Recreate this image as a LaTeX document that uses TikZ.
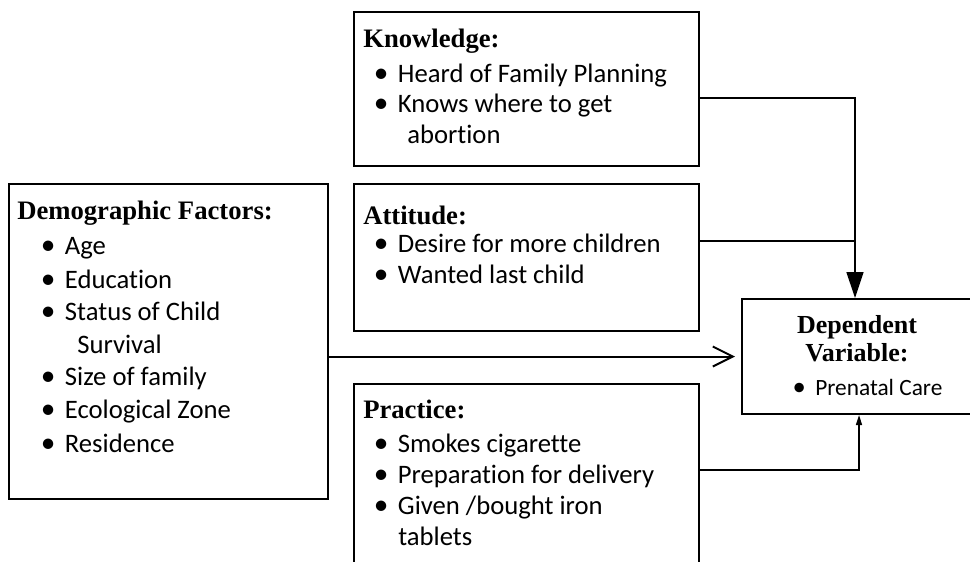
\documentclass[tikz,border=0pt]{standalone}
\usepackage{fontspec}
\setmainfont{Liberation Serif}
\newfontfamily\calfont[Ligatures={NoCommon,NoContextual}]{Carlito}
\usetikzlibrary{arrows.meta}
\newcommand{\blt}{\makebox[15.5pt][l]{\hspace{-2.5pt}\raisebox{-0.5pt}{\fontsize{22}{22}\selectfont•}}}
\newcommand{\sblt}{\makebox[15pt][l]{\hspace{-2pt}\raisebox{-0.5pt}{\fontsize{20}{20}\selectfont•}}}
\begin{document}
\begin{tikzpicture}[x=0.75pt,y=-0.75pt,
  box/.style={draw, line width=1.5pt, inner sep=0pt, anchor=north west},
  hd/.style={anchor=base west, inner sep=0pt, font=\bfseries\fontsize{20}{22}\selectfont},
  hdc/.style={anchor=base, inner sep=0pt, font=\bfseries\fontsize{19.5}{22}\selectfont},
  it/.style={anchor=base west, inner sep=0pt, font=\calfont\fontsize{20}{22}\selectfont},
  sit/.style={anchor=base west, inner sep=0pt, font=\calfont\fontsize{17.5}{20}\selectfont},
  conn/.style={line width=1.1pt}]
\useasboundingbox (0,0) rectangle (970,561);

% boxes
\node[box, minimum width=258.75pt, minimum height=115.5pt] (know) at (353,11) {};
\node[box, minimum width=258.75pt, minimum height=110.25pt] (att) at (353,183) {};
\node[box, minimum width=258.75pt, minimum height=147.75pt] (prac) at (353,383) {};
\node[box, minimum width=239.25pt, minimum height=236.25pt] (demo) at (8,183) {};
\node[box, minimum width=175.5pt, minimum height=86.25pt] (dep) at (741,298) {};

% Knowledge
\node[hd] (k0) at (363,47) {Knowledge:};
\node[it] (k1) at (377,82) {\blt Heard of Family Planning};
\node[it] (k2) at (377,112) {\blt Knows where to get};
\node[it] (k3) at (407,143) {abortion};

% Attitude
\node[hd] (a0) at (363,224) {Attitude:};
\node[it] (a1) at (377,252) {\blt Desire for more children};
\node[it] (a2) at (377,283) {\blt Wanted last child};

% Practice
\node[hd] (p0) at (363,418) {Practice:};
\node[it] (p1) at (377,452) {\blt Smokes cigarette};
\node[it] (p2) at (377,483) {\blt Preparation for delivery};
\node[it] (p3) at (377,514) {\blt Given /bought iron};
\node[it] (p4) at (398,545) {tablets};

% Demographic
\node[hd] (d0) at (17,219) {Demographic Factors:};
\node[it] (d1) at (44,254) {\blt Age};
\node[it] (d2) at (44,288) {\blt Education};
\node[it] (d3) at (44,320) {\blt Status of Child};
\node[it] (d4) at (77,353) {Survival};
\node[it] (d5) at (44,385) {\blt Size of family};
\node[it] (d6) at (44,418) {\blt Ecological Zone};
\node[it] (d7) at (44,452) {\blt Residence};

% Dependent
\node[hdc] (v0) at (857,333) {Dependent};
\node[hdc] (v1) at (857,361) {Variable:};
\node[sit] (v2) at (795,395) {\sblt Prenatal Care};

% connectors
\coordinate (ke) at ([yshift=-6.75pt]know.east);
\coordinate (ae) at ([yshift=12.4pt]att.east);
\coordinate (pe) at ([yshift=9.4pt]prac.east);
\coordinate (dn) at ([xshift=-3pt]dep.north);
\draw[conn, -{Triangle[length=19.5pt, width=12.75pt]}] (ke) -| (dn);
\draw[conn] (ae) -- (ae -| dn);
\draw[line width=1.5pt, shorten >=4.5pt, -{Straight Barb[length=15pt, width=15pt]}] (demo.east |- dep.west) -- (dep.west);
\draw[conn, -{Triangle[length=7.5pt, width=4.5pt]}] (pe) -| (dep.south);
\end{tikzpicture}
\end{document}
